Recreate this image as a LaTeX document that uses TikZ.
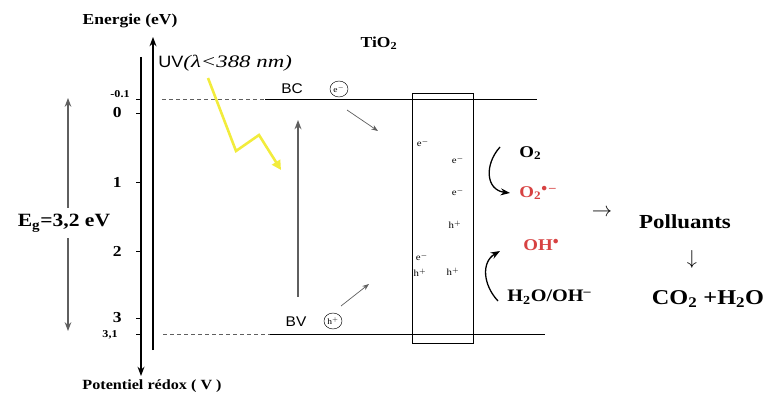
\documentclass[tikz,border=0pt]{standalone}
\usepackage{fontspec}
\setmainfont{Liberation Serif}[FakeStretch=1.15]
\setsansfont{Liberation Sans}[FakeStretch=1.1]
\newfontfamily\widefont{Liberation Serif}[FakeStretch=1.3]
\usetikzlibrary{arrows.meta,calc,shapes.geometric}
\definecolor{radical}{RGB}{215,66,66}
\definecolor{uvray}{RGB}{242,236,60}
\definecolor{guide}{RGB}{95,95,95}
\tikzset{axis/.style={-{Stealth},line width=1.1pt},level/.style={line width=.8pt},
 dashlevel/.style={dashed,guide,line width=.6pt},
 carrier/.style={draw,ellipse,inner sep=0pt,minimum width=.54cm,minimum height=.48cm,font=\fontsize{7}{7}\selectfont},
 hop/.style={-{Stealth},guide,line width=.6pt},
 react/.style={-{Stealth},line width=1.1pt},
 lbl/.style={font=\bfseries\fontsize{13}{15}\selectfont},
 chem/.style={font=\bfseries\fontsize{14}{16}\selectfont},
 sans/.style={font=\sffamily\fontsize{12}{14}\selectfont},
 small/.style={font=\fontsize{8}{9}\selectfont},
 every node/.style={inner sep=1pt}}

\begin{document}
\begin{tikzpicture}[x=0.03cm,y=-0.03cm]
\useasboundingbox (0,0) rectangle (780,399);
% axes
\coordinate (redtop) at (141,57);
\coordinate (redbot) at (141,376);
\coordinate (enbot) at (153,350);
\coordinate (entop) at (153,37);
\draw[axis] (redtop) -- (redbot);
\draw[axis] (enbot) -- (entop);
\node[lbl] (energie) at (130,21) {Energie (eV)};
\node[font=\bfseries\fontsize{12}{14}\selectfont] (redox) at (152,386) {Potentiel rédox ( V )};
\foreach \v/\y in {0/113,1/182,2/251,3/318}{
  \draw[line width=.8pt] (136,\y) -- (141,\y);
  \node[lbl,anchor=east] (tick\v) at (123,\y) {\v};
}
\draw[line width=.8pt] (136,99) -- (141,99);
\draw[line width=.8pt] (136,334) -- (141,334);
\node[font=\bfseries\fontsize{9}{10}\selectfont,anchor=east] (tickbc) at (131,94) {-0.1};
\node[font=\bfseries\fontsize{9}{10}\selectfont,anchor=east] (tickbv) at (119,335) {3,1};
% gap
\node[font=\bfseries\fontsize{16}{18}\selectfont,inner sep=5pt] (eg) at (64,223) {E\textsubscript{g}=3,2 eV};
\coordinate (egtop) at (68,98);
\coordinate (egbot) at (68,331);
\draw[axis,guide,line width=1pt] (eg.north -| egtop) -- (egtop);
\draw[axis,guide,line width=1pt] (eg.south -| egbot) -- (egbot);
% levels
\coordinate (bcdash) at (162,99);
\coordinate (bcL) at (265,99);
\coordinate (bcR) at (537,99);
\coordinate (bvdash) at (163,334);
\coordinate (bvL) at (270,334);
\coordinate (bvR) at (545,334);
\draw[dashlevel] (bcdash) -- (bcL);
\draw[level] (bcL) -- (bcR);
\draw[dashlevel] (bvdash) -- (bvL);
\draw[level] (bvL) -- (bvR);
\node[sans] (bc) at (292,89) {BC};
\node[carrier] (ebc) at (339,89) {e$^-$};
\node[sans] (bv) at (296,322) {BV};
\node[carrier] (hbv) at (333,321) {h$^+$};
\coordinate (hopbc) at (378,131);
\coordinate (hopbv) at (369,284);
\draw[hop] ($(ebc)+(8,21)$) -- (hopbc);
\draw[hop] ($(hbv)+(8,-15)$) -- (hopbv);
\coordinate (gapbot) at (298,297);
\coordinate (gaptop) at (298,120);
\draw[axis,guide] (gapbot) -- (gaptop);
% light
\node[anchor=west] (uv) at (157,63) {\sffamily\fontsize{14}{16}\selectfont UV\widefont\itshape\fontsize{15}{17}\selectfont(λ<388 nm)};
\coordinate (ray0) at (208,78);
\coordinate (ray1) at (236,151);
\coordinate (ray2) at (259,135);
\coordinate (ray3) at (281,170);
\draw[uvray,line width=2.2pt,-{Triangle[length=8pt,width=8pt]}] (ray0) -- (ray1) -- (ray2) -- (ray3);
\node[lbl] (tio) at (379,43) {TiO\textsubscript{2}};
% particle
\node[draw,line width=.8pt,minimum width=1.83cm,minimum height=7.5cm,inner sep=0pt] (film) at (442.5,218) {};
\node[small] (e1) at (423,143) {e$^-$};
\node[small] (e2) at (458,160) {e$^-$};
\node[small] (e3) at (458,192) {e$^-$};
\node[small] (h1) at (455,225) {h$^+$};
\node[small] (e4) at (422,257) {e$^-$};
\node[small] (h2) at (420,273) {h$^+$};
\node[small] (h3) at (453,272) {h$^+$};
% reactions
\node[chem,anchor=west] (o2) at (518,153) {O\textsubscript{2}};
\node[chem,anchor=west,radical] (o2rad) at (518,193) {O\textsubscript{2}\textsuperscript{$\bullet$\,–}};
\node[chem,anchor=west,radical] (ohrad) at (522,245) {OH\textsuperscript{$\bullet$}};
\node[chem,anchor=west,font=\bfseries\fontsize{15}{17}\selectfont] (h2o) at (506,297) {H\textsubscript{2}O/OH\textsuperscript{–}};
\draw[react] ($(o2.west)+(-18,-6)$) .. controls (484,165) and (486,190) .. ($(o2rad.west)+(-8,0)$);
\draw[react] ($(h2o.west)+(-8,4)$) .. controls (483,285) and (481,262) .. ($(ohrad.west)+(-22,6)$);
\node[font=\fontsize{18}{20}\selectfont] (toward) at (602,213) {$\rightarrow$};
\node[font=\bfseries\fontsize{17}{19}\selectfont] (poll) at (685,222) {Polluants};
\node[font=\fontsize{17}{19}\selectfont] (down) at (692,259) {$\downarrow$};
\node[font=\bfseries\fontsize{18}{20}\selectfont] (prod) at (708,299) {CO\textsubscript{2} +H\textsubscript{2}O};
\end{tikzpicture}
\end{document}
